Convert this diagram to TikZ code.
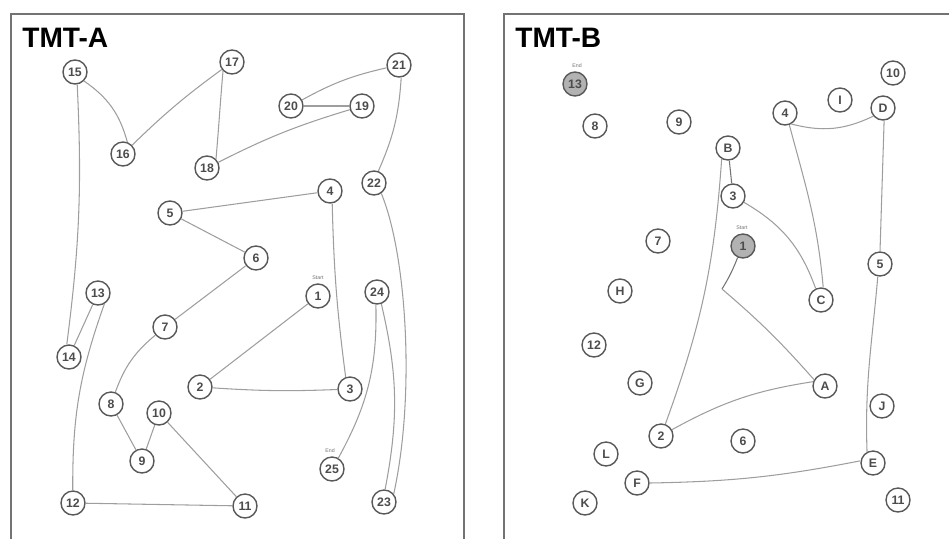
\documentclass[tikz,border=0pt]{standalone}
\usepackage{fontspec}
\setmainfont{Liberation Sans}
\begin{document}
\begin{tikzpicture}[x=0.02cm,y=-0.02cm,
  tnode/.style={circle,draw=black!65,line width=0.8pt,minimum size=0.48cm,inner sep=0pt,font=\fontsize{7}{7}\selectfont\bfseries,text=black!70,fill=white},
  snode/.style={tnode,fill=black!30},
  link/.style={draw=black!38,line width=0.6pt},
  frame/.style={draw=black!55,line width=1.5pt},
  title/.style={font=\fontsize{16}{16}\selectfont\bfseries,anchor=west,inner sep=0pt},
  tag/.style={font=\fontsize{3}{3}\selectfont,text=black!55,inner sep=0pt}]
\useasboundingbox (0,0) rectangle (949,538);
\draw[frame] (11,545) -- (11,14) -- (464,14) -- (464,545);
\draw[frame] (504,545) -- (504,14) -- (955,14);
\node[title] (ta) at (22,38) {TMT-A};
\node[title] (tb) at (515,38) {TMT-B};
% ---------- TMT-A ----------
\node[tnode] (a15) at (75,72) {15};
\node[tnode] (a17) at (232,62) {17};
\node[tnode] (a21) at (399,65) {21};
\node[tnode] (a20) at (291,106) {20};
\node[tnode] (a19) at (362,106) {19};
\node[tnode] (a16) at (123,154) {16};
\node[tnode] (a18) at (207,168) {18};
\node[tnode] (a22) at (374,183) {22};
\node[tnode] (a4) at (330,191) {4};
\node[tnode] (a5) at (170,213) {5};
\node[tnode] (a6) at (256,258) {6};
\node[tnode] (a13) at (98,293) {13};
\node[tnode] (a1) at (318,296) {1};
\node[tag] (sa) at (318,278) {Start};
\node[tnode] (a24) at (377,292) {24};
\node[tnode] (a7) at (165,327) {7};
\node[tnode] (a14) at (69,357) {14};
\node[tnode] (a2) at (200,387) {2};
\node[tnode] (a3) at (350,389) {3};
\node[tnode] (a8) at (111,404) {8};
\node[tnode] (a10) at (159,413) {10};
\node[tnode] (a9) at (142,461) {9};
\node[tnode] (a25) at (332,469) {25};
\node[tag] (ea) at (330,451) {End};
\node[tnode] (a12) at (73,503) {12};
\node[tnode] (a11) at (245,506) {11};
\node[tnode] (a23) at (384,502) {23};
\draw[link] (a1) -- (a2);
\draw[link] (a2) to[bend right=3] (a3);
\draw[link] (a3.110) to[bend left=3] (a4.-80);
\draw[link] (a4) -- (a5);
\draw[link] (a5) -- (a6);
\draw[link] (a6) -- (a7);
\draw[link] (a7) to[bend right=15] (a8);
\draw[link] (a8) -- (a9);
\draw[link] (a9) -- (a10);
\draw[link] (a10) -- (a11);
\draw[link] (a11) -- (a12);
\draw[link] (a12) to[bend left=10] (a13.-60);
\draw[link] (a13) -- (a14);
\draw[link] (a14.100) to[bend right=5] (a15.-80);
\draw[link] (a15.-45) to[bend left=20] (a16.70);
\draw[link] (a16) to[bend left=4] (a17);
\draw[link] (a17.south west) to[out=-95,in=85] (a18.north east);
\draw[link] (a18) to[bend left=5] (a19);
\draw[link] (a19) -- (a20);
\draw[link] (a20) to[bend left=8] (a21);
\draw[link] (a21.-80) to[bend left=10] (a22.70);
\draw[link] (a22.-55) .. controls +(25,60) and +(22,-100) .. (a23.40);
\draw[link] (a24.-70) to[bend left=12] (a23.85);
\draw[link] (a24.-95) to[bend left=15] (a25.60);
% ---------- TMT-B ----------
\node[snode] (b13) at (575,84) {13};
\node[tag] (eb) at (577,66) {End};
\node[tnode] (b10) at (893,73) {10};
\node[tnode] (bI) at (840,100) {I};
\node[tnode] (bD) at (883,108) {D};
\node[tnode] (b4) at (785,113) {4};
\node[tnode] (b8) at (595,126) {8};
\node[tnode] (b9) at (679,122) {9};
\node[tnode] (bB) at (728,148) {B};
\node[tnode] (b3) at (733,196) {3};
\node[tnode] (b7) at (658,241) {7};
\node[snode] (b1) at (743,246) {1};
\node[tag] (sb) at (742,228) {Start};
\node[tnode] (b5) at (880,264) {5};
\node[tnode] (bH) at (620,291) {H};
\node[tnode] (bC) at (821,300) {C};
\node[tnode] (b12) at (594,345) {12};
\node[tnode] (bG) at (640,383) {G};
\node[tnode] (bA) at (825,386) {A};
\node[tnode] (bJ) at (882,406) {J};
\node[tnode] (b2) at (661,436) {2};
\node[tnode] (b6) at (743,441) {6};
\node[tnode] (bL) at (606,454) {L};
\node[tnode] (bE) at (873,463) {E};
\node[tnode] (bF) at (637,483) {F};
\node[tnode] (b11) at (898,500) {11};
\node[tnode] (bK) at (585,503) {K};
\coordinate (kink) at (722,289);
\draw[link,draw=black!55] (b1.-115) to[bend left=5] (kink);
\draw[link] (kink) to[bend left=4] (bA.150);
\draw[link] (bA.160) to[bend right=10] (b2.30);
\draw[link] (b2.70) to[bend right=8] (bB.-120);
\draw[link,draw=black!55] (bB) -- (b3);
\draw[link] (b3.-30) to[bend left=20] (bC.115);
\draw[link] (bC.80) to[out=95,in=-75] (b4.-70);
\draw[link] (b4.-60) to[bend right=20] (bD.-140);
\draw[link] (bD.-85) -- (b5.90);
\draw[link] (b5.-100) to[out=-95,in=92] (bE.118);
\draw[link] (bE.170) to[bend left=5] (bF.0);
\end{tikzpicture}
\end{document}
